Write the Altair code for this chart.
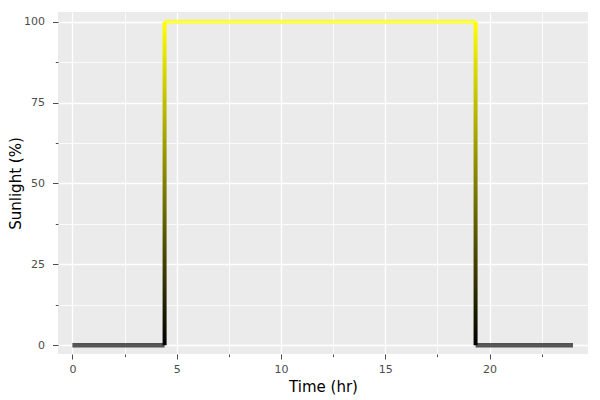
import altair as alt
import pandas as pd

# Step profile of sunlight over the day
time_hr = [0.0, 4.42, 4.42, 19.33, 19.33, 24.0]
sunlight = [0, 0, 100, 100, 0, 0]

x_ticks = [0, 2.5, 5, 7.5, 10, 12.5, 15, 17.5, 20, 22.5]
y_ticks = [0, 12.5, 25, 37.5, 50, 62.5, 75, 87.5, 100]

# build segments between consecutive points
h_rows, v_rows = [], []
for i in range(len(time_hr) - 1):
    t0, t1 = time_hr[i], time_hr[i + 1]
    s0, s1 = sunlight[i], sunlight[i + 1]
    if s0 == s1:
        h_rows.append({"t": t0, "t2": t1, "s": s0})
    else:
        v_rows.append({"t": t0, "lo": min(s0, s1), "hi": max(s0, s1)})
h_df = pd.DataFrame(h_rows)
v_df = pd.DataFrame(v_rows)

xscale = alt.Scale(domain=[-0.69, 24.72], nice=False, zero=False, padding=0)
yscale = alt.Scale(domain=[-2.7, 103.0], nice=False, zero=False, padding=0)

xaxis = alt.Axis(
    values=x_ticks,
    title="Time (hr)",
    labelExpr="datum.value % 5 === 0 ? format(datum.value, 'd') : ''",
    tickSize={"condition": {"test": "datum.value % 5 === 0", "value": 5}, "value": 2.5},
    gridWidth={"condition": {"test": "datum.value % 5 === 0", "value": 1.3}, "value": 0.8},
    gridColor="white",
    domain=False,
    tickColor="#4d4d4d",
    labelColor="#4d4d4d",
    labelFontSize=11,
    labelPadding=4,
    titleFontSize=15,
    titleFontWeight="normal",
    titleColor="black",
    titlePadding=5,
)
yaxis = alt.Axis(
    values=y_ticks,
    title="Sunlight (%)",
    labelExpr="datum.value % 25 === 0 ? format(datum.value, 'd') : ''",
    tickSize={"condition": {"test": "datum.value % 25 === 0", "value": 5.5}, "value": 2.7},
    gridWidth={"condition": {"test": "datum.value % 25 === 0", "value": 1.3}, "value": 0.8},
    gridColor="white",
    domain=False,
    tickColor="#4d4d4d",
    labelColor="#4d4d4d",
    labelFontSize=11,
    labelPadding=8,
    titleFontSize=15,
    titleFontWeight="normal",
    titleColor="black",
    titlePadding=0,
)

flat = alt.Chart(h_df).mark_rule(strokeWidth=4.5, opacity=0.65, strokeCap="butt").encode(
    x=alt.X("t:Q", scale=xscale, axis=xaxis),
    x2="t2:Q",
    y=alt.Y("s:Q", scale=yscale, axis=yaxis),
    color=alt.Color(
        "s:Q",
        scale=alt.Scale(domain=[0, 100], range=["#000000", "#ffff00"], interpolate="rgb"),
        legend=None,
    ),
)

grad = alt.Gradient(
    gradient="linear",
    stops=[alt.GradientStop(color="#000000", offset=0), alt.GradientStop(color="#ffff00", offset=1)],
    x1=0, x2=0, y1=1, y2=0,
)
rise = alt.Chart(v_df).mark_bar(size=4, color=grad).encode(
    x=alt.X("t:Q", scale=xscale),
    y=alt.Y("lo:Q", scale=yscale),
    y2="hi:Q",
)

chart = (
    alt.layer(flat, rise)
    .properties(
        width=530,
        height=342,
        autosize=alt.AutoSizeParams(type="none"),
        padding={"left": 50, "top": 4, "right": 4, "bottom": 46},
    )
    .configure(font="DejaVu Sans")
    .configure_view(fill="#EBEBEB", strokeWidth=0)
)

chart.save("out.html", embed_options={"renderer": "svg", "actions": False})
